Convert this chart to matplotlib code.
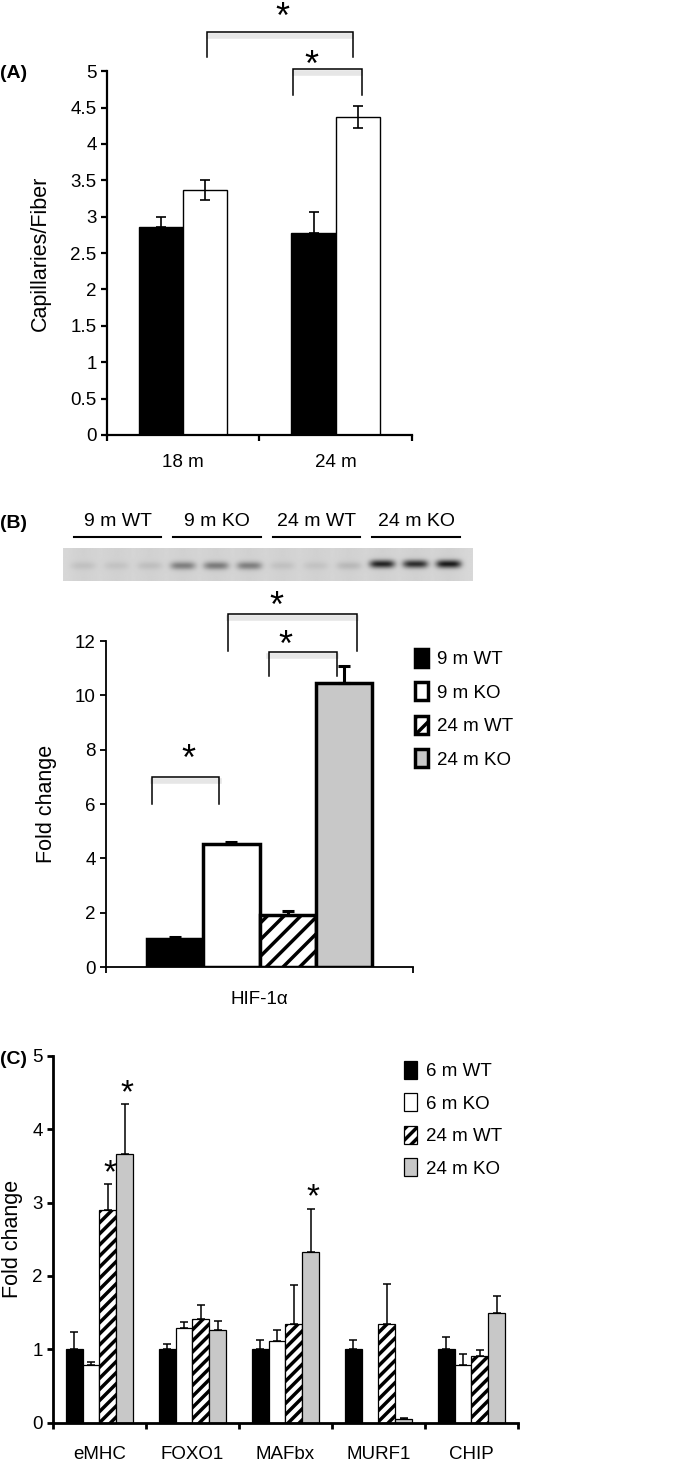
import matplotlib.pyplot as plt
from matplotlib import transforms
import numpy as np

plt.rcParams['font.family'] = ['Liberation Sans', 'DejaVu Sans']
plt.rcParams['hatch.linewidth'] = 2.5

# (A) capillaries per fiber
ages_a = ['18 m', '24 m']
wt_a = [2.86, 2.78]
wt_a_err = [0.13, 0.29]
ko_a = [3.37, 4.37]
ko_a_err = [0.14, 0.15]

# (B) western blot + HIF-1a quantification
blot_groups = ['9 m WT', '9 m KO', '24 m WT', '24 m KO']
band_strength = [0.08, 0.07, 0.09, 0.40, 0.42, 0.40, 0.08, 0.07, 0.12, 0.85, 0.80, 0.90]
hif_vals = [1.02, 4.52, 1.90, 10.45]
hif_err = [0.08, 0.08, 0.17, 0.63]

# (C) gene expression
genes = ['eMHC', 'FOXO1', 'MAFbx', 'MURF1', 'CHIP']
c_groups = ['6 m WT', '6 m KO', '24 m WT', '24 m KO']
c_vals = [[1.0, 1.0, 1.0, 1.0, 1.0],
          [0.79, 1.29, 1.12, np.nan, 0.78],
          [2.90, 1.42, 1.34, 1.35, 0.91],
          [3.66, 1.27, 2.33, 0.045, 1.50]]
c_err = [[0.23, 0.07, 0.13, 0.13, 0.17],
         [0.04, 0.08, 0.14, np.nan, 0.15],
         [0.36, 0.19, 0.54, 0.54, 0.08],
         [0.68, 0.11, 0.59, 0.025, 0.23]]
c_stars = [(0, 2), (0, 3), (2, 3)]  # (gene, group)

fills = ['black', 'white', 'white', '#c8c8c8']
hatches = [None, None, '//', None]

tick_fs = 13.5
label_fs = 15.5


def bracket(ax, x1, x2, top, leg1, leg2, star_x, star_y):
    ax.plot([x1, x1, x2, x2], [leg1, top, top, leg2], color='black', lw=1.1,
            clip_on=False, solid_joinstyle='miter')
    shift = transforms.ScaledTranslation(0, -3 / 72, ax.figure.dpi_scale_trans)
    ax.plot([x1 + 0.01, x2 - 0.01], [top, top], color='#e6e6e6', lw=4,
            clip_on=False, zorder=0, transform=ax.transData + shift)
    ax.text(star_x, star_y, '*', fontsize=26, ha='center', va='center', clip_on=False)


def style_axis(ax, lw):
    for s in ['top', 'right']:
        ax.spines[s].set_visible(False)
    ax.spines['left'].set_linewidth(lw)
    ax.spines['bottom'].set_linewidth(lw)
    ax.tick_params(which='major', length=4, width=lw, labelsize=tick_fs)


fig = plt.figure(figsize=(6.81, 14.67), dpi=100)

# ---------- (A)
axA = fig.add_axes([0.157, 0.7035, 0.448, 0.248])
x = np.arange(len(ages_a))
w = 0.29
axA.bar(x - w / 2, wt_a, w, color='black', edgecolor='black', lw=1)
axA.bar(x + w / 2, ko_a, w, color='white', edgecolor='black', lw=1)
axA.errorbar(x - w / 2, wt_a, yerr=[[0] * 2, wt_a_err], fmt='none', ecolor='black',
             elinewidth=1.2, capsize=3.5, capthick=1.2)
axA.errorbar(x + w / 2, ko_a, yerr=ko_a_err, fmt='none', ecolor='black',
             elinewidth=1.2, capsize=3.5, capthick=1.2)
axA.set_xlim(-0.5, 1.5)
axA.set_ylim(0, 5)
axA.set_yticks(np.arange(0, 5.01, 0.5))
axA.set_yticklabels(['%g' % v for v in np.arange(0, 5.01, 0.5)])
axA.set_xticks([-0.5, 0.5, 1.5])
axA.set_xticklabels([])
axA.set_xticks(x, minor=True)
axA.set_xticklabels(ages_a, minor=True)
style_axis(axA, 1.6)
axA.tick_params(axis='x', which='minor', length=0, pad=14, labelsize=tick_fs)
axA.set_ylabel('Capillaries/Fiber', fontsize=label_fs)
axA.yaxis.set_label_coords(-0.185, 0.5)
bracket(axA, 0.158, 1.11, 5.54, 5.19, 5.19, 0.651, 5.72)
bracket(axA, 0.72, 1.17, 5.03, 4.67, 4.67, 0.84, 5.07)
fig.text(0.0, 1 - 73 / 1467, '(A)', fontsize=14, fontweight='bold', va='center')

# ---------- (B) blot
axBlot = fig.add_axes([0.0925, 0.604, 0.6006, 0.0225])
nx, ny = 480, 40
xs = np.linspace(-0.6, 11.72, nx)
ys = np.linspace(1, 0, ny)
img = np.full((ny, nx), 0.85)
for i, s in enumerate(band_strength):
    img -= 0.03 * np.exp(-((xs[None, :] - i) / 0.45) ** 2)
    yc = 0.45 if s < 0.6 else 0.5
    img -= s * 0.8 * np.exp(-((xs[None, :] - i) / 0.38) ** 4) * \
        np.exp(-((ys[:, None] - yc) / 0.12) ** 2)
axBlot.imshow(img, cmap='gray', vmin=0, vmax=1, extent=(-0.6, 11.72, 0, 1),
              aspect='auto', interpolation='bilinear')
axBlot.set_xlim(-0.6, 11.72)
axBlot.set_ylim(0, 1)
axBlot.axis('off')
for g, name in enumerate(blot_groups):
    axBlot.plot([3 * g - 0.28, 3 * g + 2.35], [1.33, 1.33], color='black', lw=1.5,
                clip_on=False)
    axBlot.text(3 * g + 1.05, 1.8, name, ha='center', va='center', fontsize=14,
                clip_on=False)
fig.text(0.0, 1 - 523 / 1467, '(B)', fontsize=14, fontweight='bold', va='center')

# ---------- (B) bars
axB = fig.add_axes([0.1557, 0.3408, 0.451, 0.2222])
xb = np.arange(len(hif_vals))
for i in range(len(hif_vals)):
    axB.bar(xb[i], hif_vals[i], 1.0, color=fills[i], edgecolor='black', lw=2.5,
            hatch=hatches[i], label=blot_groups[i])
axB.errorbar(xb, hif_vals, yerr=[[0] * 4, hif_err], fmt='none', ecolor='black',
             elinewidth=2.2, capsize=4, capthick=2.2)
axB.set_xlim(-1.232, 4.232)
axB.set_ylim(0, 12)
axB.set_yticks(range(0, 13, 2))
axB.set_xticks([-1.232, 4.232])
axB.set_xticklabels([])
axB.set_xticks([1.5], minor=True)
axB.set_xticklabels(['HIF-1α'], minor=True)
style_axis(axB, 1.3)
axB.tick_params(axis='x', which='minor', length=0, pad=17, labelsize=tick_fs)
axB.set_ylabel('Fold change', fontsize=label_fs)
axB.yaxis.set_label_coords(-0.16, 0.5)
bracket(axB, -0.41, 0.786, 7.0, 6.0, 6.0, 0.23, 7.6)
bracket(axB, 0.946, 3.23, 13.0, 11.65, 11.65, 1.79, 13.25)
bracket(axB, 1.66, 2.875, 11.6, 10.7, 10.7, 1.96, 11.8)
axB.legend(loc='upper left', bbox_to_anchor=(398 / 681, 1 - 632 / 1467),
           bbox_transform=fig.transFigure, frameon=False, handlelength=0.7,
           handleheight=1.1, handletextpad=0.5, labelspacing=0.75,
           fontsize=tick_fs)

# ---------- (C)
axC = fig.add_axes([0.0778, 0.0302, 0.6828, 0.25])
xc = np.arange(len(genes))
wc = 0.18
for i in range(len(c_groups)):
    pos = xc + (i - 1.5) * wc
    axC.bar(pos, c_vals[i], wc, color=fills[i], edgecolor='black', lw=0.9,
            hatch=hatches[i] and '///', label=c_groups[i])
    axC.errorbar(pos, c_vals[i], yerr=[[0] * len(genes), c_err[i]], fmt='none',
                 ecolor='black', elinewidth=1.1, capsize=3, capthick=1.1)
for gi, k in c_stars:
    px = xc[gi] + (k - 1.5) * wc
    axC.text(px + 0.025, c_vals[k][gi] + c_err[k][gi] + 0.14, '*', fontsize=24,
             ha='center', va='center')
axC.set_xlim(-0.5, 4.5)
axC.set_ylim(0, 5)
axC.set_yticks(range(0, 6))
axC.set_xticks(np.arange(-0.5, 4.6, 1))
axC.set_xticklabels([])
axC.set_xticks(xc, minor=True)
axC.set_xticklabels(genes, minor=True)
style_axis(axC, 2)
axC.tick_params(axis='x', which='minor', length=0, pad=17, labelsize=tick_fs)
axC.set_ylabel('Fold change', fontsize=label_fs)
axC.yaxis.set_label_coords(-0.064, 0.5)
axC.legend(loc='upper left', bbox_to_anchor=(387 / 681, 1 - 1044 / 1467),
           bbox_transform=fig.transFigure, frameon=False, handlelength=0.7,
           handleheight=1.1, handletextpad=0.5, labelspacing=0.7,
           fontsize=tick_fs)
fig.text(0.0, 1 - 1060 / 1467, '(C)', fontsize=14, fontweight='bold', va='center')

fig.savefig('out.png', dpi=100)
